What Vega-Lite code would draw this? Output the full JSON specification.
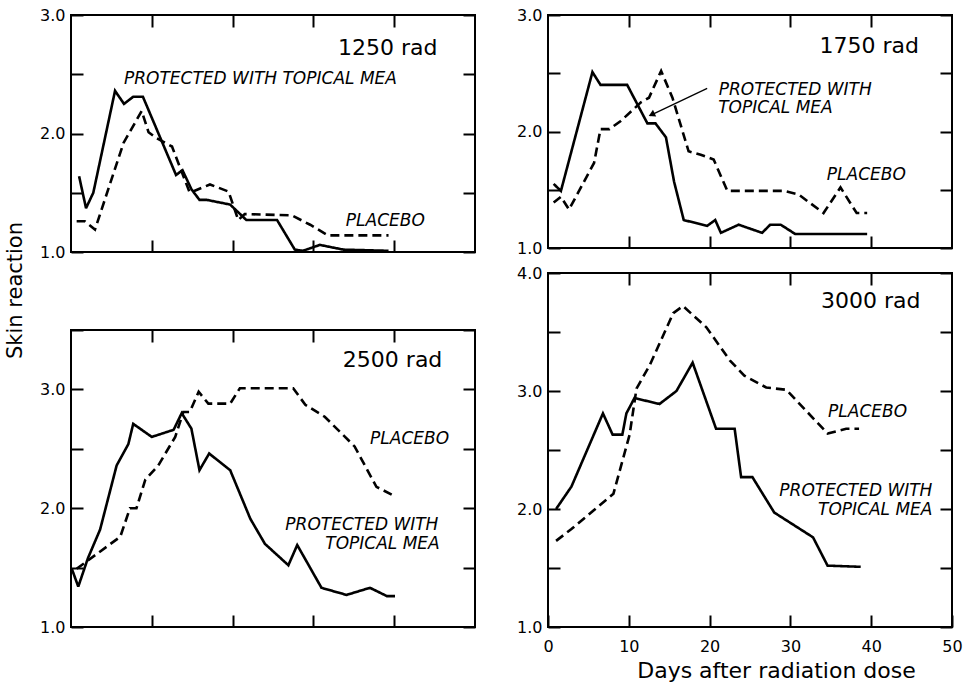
{
  "$schema": "https://vega.github.io/schema/vega-lite/v6.json",
  "padding": {"left": 3, "top": 6, "right": 5, "bottom": 5},
  "background": "white",
  "datasets": {
    "d1250": [
      {"series": "Protected", "day": 1.0, "value": 1.64}, {"series": "Protected", "day": 1.86, "value": 1.37}, {"series": "Protected", "day": 2.76, "value": 1.5}, {"series": "Protected", "day": 5.45, "value": 2.36}, {"series": "Protected", "day": 6.56, "value": 2.25}, {"series": "Protected", "day": 7.7, "value": 2.31}, {"series": "Protected", "day": 8.9, "value": 2.31}, {"series": "Protected", "day": 13.0, "value": 1.65}, {"series": "Protected", "day": 13.8, "value": 1.69}, {"series": "Protected", "day": 14.9, "value": 1.53}, {"series": "Protected", "day": 15.9, "value": 1.44}, {"series": "Protected", "day": 16.8, "value": 1.44}, {"series": "Protected", "day": 19.7, "value": 1.4}, {"series": "Protected", "day": 21.7, "value": 1.27}, {"series": "Protected", "day": 25.5, "value": 1.27}, {"series": "Protected", "day": 27.7, "value": 1.02}, {"series": "Protected", "day": 28.7, "value": 1.01}, {"series": "Protected", "day": 30.8, "value": 1.06}, {"series": "Protected", "day": 33.7, "value": 1.02}, {"series": "Protected", "day": 39.3, "value": 1.01},
      {"series": "Placebo", "day": 0.7, "value": 1.26}, {"series": "Placebo", "day": 1.7, "value": 1.26}, {"series": "Placebo", "day": 2.97, "value": 1.19}, {"series": "Placebo", "day": 6.5, "value": 1.92}, {"series": "Placebo", "day": 8.75, "value": 2.19}, {"series": "Placebo", "day": 9.6, "value": 2.01}, {"series": "Placebo", "day": 10.6, "value": 1.96}, {"series": "Placebo", "day": 12.5, "value": 1.89}, {"series": "Placebo", "day": 14.7, "value": 1.5}, {"series": "Placebo", "day": 17.2, "value": 1.57}, {"series": "Placebo", "day": 19.5, "value": 1.51}, {"series": "Placebo", "day": 20.7, "value": 1.27}, {"series": "Placebo", "day": 21.5, "value": 1.32}, {"series": "Placebo", "day": 27.3, "value": 1.31}, {"series": "Placebo", "day": 29.6, "value": 1.23}, {"series": "Placebo", "day": 31.8, "value": 1.14}, {"series": "Placebo", "day": 39.3, "value": 1.14}
    ],
    "d1750": [
      {"series": "Protected", "day": 0.7, "value": 1.55}, {"series": "Protected", "day": 1.6, "value": 1.49}, {"series": "Protected", "day": 5.5, "value": 2.51}, {"series": "Protected", "day": 6.5, "value": 2.4}, {"series": "Protected", "day": 9.8, "value": 2.4}, {"series": "Protected", "day": 12.3, "value": 2.07}, {"series": "Protected", "day": 13.3, "value": 2.07}, {"series": "Protected", "day": 14.6, "value": 1.95}, {"series": "Protected", "day": 15.6, "value": 1.57}, {"series": "Protected", "day": 16.8, "value": 1.24}, {"series": "Protected", "day": 19.7, "value": 1.19}, {"series": "Protected", "day": 20.7, "value": 1.24}, {"series": "Protected", "day": 21.4, "value": 1.13}, {"series": "Protected", "day": 23.6, "value": 1.2}, {"series": "Protected", "day": 26.5, "value": 1.13}, {"series": "Protected", "day": 27.5, "value": 1.2}, {"series": "Protected", "day": 28.8, "value": 1.2}, {"series": "Protected", "day": 30.6, "value": 1.12}, {"series": "Protected", "day": 39.5, "value": 1.12},
      {"series": "Placebo", "day": 0.7, "value": 1.39}, {"series": "Placebo", "day": 1.6, "value": 1.44}, {"series": "Placebo", "day": 2.6, "value": 1.33}, {"series": "Placebo", "day": 5.7, "value": 1.73}, {"series": "Placebo", "day": 6.5, "value": 2.02}, {"series": "Placebo", "day": 7.6, "value": 2.02}, {"series": "Placebo", "day": 9.0, "value": 2.09}, {"series": "Placebo", "day": 11.5, "value": 2.25}, {"series": "Placebo", "day": 12.5, "value": 2.29}, {"series": "Placebo", "day": 14.0, "value": 2.52}, {"series": "Placebo", "day": 15.4, "value": 2.29}, {"series": "Placebo", "day": 17.4, "value": 1.83}, {"series": "Placebo", "day": 18.9, "value": 1.8}, {"series": "Placebo", "day": 20.5, "value": 1.76}, {"series": "Placebo", "day": 22.2, "value": 1.49}, {"series": "Placebo", "day": 29.2, "value": 1.49}, {"series": "Placebo", "day": 31.0, "value": 1.46}, {"series": "Placebo", "day": 34.1, "value": 1.3}, {"series": "Placebo", "day": 36.2, "value": 1.52}, {"series": "Placebo", "day": 38.2, "value": 1.3}, {"series": "Placebo", "day": 39.5, "value": 1.3}
    ],
    "d2500": [
      {"series": "Protected", "day": 0.1, "value": 1.49}, {"series": "Protected", "day": 0.9, "value": 1.34}, {"series": "Protected", "day": 2.1, "value": 1.58}, {"series": "Protected", "day": 3.6, "value": 1.82}, {"series": "Protected", "day": 5.65, "value": 2.36}, {"series": "Protected", "day": 7.1, "value": 2.54}, {"series": "Protected", "day": 7.7, "value": 2.71}, {"series": "Protected", "day": 10.0, "value": 2.6}, {"series": "Protected", "day": 12.7, "value": 2.66}, {"series": "Protected", "day": 13.7, "value": 2.8}, {"series": "Protected", "day": 14.9, "value": 2.67}, {"series": "Protected", "day": 15.9, "value": 2.32}, {"series": "Protected", "day": 17.1, "value": 2.46}, {"series": "Protected", "day": 19.7, "value": 2.32}, {"series": "Protected", "day": 22.2, "value": 1.91}, {"series": "Protected", "day": 24.0, "value": 1.7}, {"series": "Protected", "day": 26.9, "value": 1.52}, {"series": "Protected", "day": 28.0, "value": 1.69}, {"series": "Protected", "day": 31.0, "value": 1.33}, {"series": "Protected", "day": 34.1, "value": 1.27}, {"series": "Protected", "day": 37.0, "value": 1.33}, {"series": "Protected", "day": 39.1, "value": 1.26}, {"series": "Protected", "day": 40.1, "value": 1.26},
      {"series": "Placebo", "day": 0.7, "value": 1.49}, {"series": "Placebo", "day": 6.1, "value": 1.76}, {"series": "Placebo", "day": 7.3, "value": 2.0}, {"series": "Placebo", "day": 8.1, "value": 2.0}, {"series": "Placebo", "day": 9.2, "value": 2.24}, {"series": "Placebo", "day": 10.8, "value": 2.36}, {"series": "Placebo", "day": 12.9, "value": 2.6}, {"series": "Placebo", "day": 13.9, "value": 2.81}, {"series": "Placebo", "day": 14.7, "value": 2.81}, {"series": "Placebo", "day": 15.8, "value": 2.98}, {"series": "Placebo", "day": 17.0, "value": 2.88}, {"series": "Placebo", "day": 19.7, "value": 2.88}, {"series": "Placebo", "day": 20.9, "value": 3.01}, {"series": "Placebo", "day": 27.5, "value": 3.01}, {"series": "Placebo", "day": 29.0, "value": 2.87}, {"series": "Placebo", "day": 31.4, "value": 2.77}, {"series": "Placebo", "day": 35.1, "value": 2.52}, {"series": "Placebo", "day": 37.8, "value": 2.18}, {"series": "Placebo", "day": 40.1, "value": 2.1}
    ],
    "d3000": [
      {"series": "Protected", "day": 1.0, "value": 2.0}, {"series": "Protected", "day": 2.9, "value": 2.19}, {"series": "Protected", "day": 6.8, "value": 2.81}, {"series": "Protected", "day": 8.0, "value": 2.63}, {"series": "Protected", "day": 9.2, "value": 2.63}, {"series": "Protected", "day": 9.7, "value": 2.81}, {"series": "Protected", "day": 10.7, "value": 2.94}, {"series": "Protected", "day": 13.8, "value": 2.89}, {"series": "Protected", "day": 15.9, "value": 3.0}, {"series": "Protected", "day": 17.9, "value": 3.24}, {"series": "Protected", "day": 20.8, "value": 2.68}, {"series": "Protected", "day": 23.1, "value": 2.68}, {"series": "Protected", "day": 23.9, "value": 2.27}, {"series": "Protected", "day": 25.3, "value": 2.27}, {"series": "Protected", "day": 28.0, "value": 1.97}, {"series": "Protected", "day": 32.8, "value": 1.76}, {"series": "Protected", "day": 34.6, "value": 1.52}, {"series": "Protected", "day": 38.7, "value": 1.51},
      {"series": "Placebo", "day": 1.0, "value": 1.73}, {"series": "Placebo", "day": 2.9, "value": 1.83}, {"series": "Placebo", "day": 8.1, "value": 2.13}, {"series": "Placebo", "day": 9.3, "value": 2.43}, {"series": "Placebo", "day": 10.1, "value": 2.63}, {"series": "Placebo", "day": 10.95, "value": 3.02}, {"series": "Placebo", "day": 12.6, "value": 3.22}, {"series": "Placebo", "day": 15.5, "value": 3.66}, {"series": "Placebo", "day": 16.7, "value": 3.72}, {"series": "Placebo", "day": 19.6, "value": 3.54}, {"series": "Placebo", "day": 22.5, "value": 3.26}, {"series": "Placebo", "day": 24.3, "value": 3.13}, {"series": "Placebo", "day": 27.0, "value": 3.03}, {"series": "Placebo", "day": 29.5, "value": 3.01}, {"series": "Placebo", "day": 34.6, "value": 2.64}, {"series": "Placebo", "day": 36.9, "value": 2.68}, {"series": "Placebo", "day": 38.5, "value": 2.68}
    ],
    "t1250": [
      {"kind": "dose", "label": "1250 rad", "day": 39.2, "value": 2.72},
      {"kind": "series", "label": "PROTECTED WITH TOPICAL MEA", "day": 23.45, "value": 2.46},
      {"kind": "series", "label": "PLACEBO", "day": 38.9, "value": 1.26}
    ],
    "t1750": [
      {"kind": "dose", "label": "1750 rad", "day": 39.75, "value": 2.73},
      {"kind": "series", "label": "PROTECTED WITH", "day": 30.6, "value": 2.36},
      {"kind": "series", "label": "TOPICAL MEA", "day": 28.15, "value": 2.2},
      {"kind": "series", "label": "PLACEBO", "day": 39.4, "value": 1.63}
    ],
    "t2500": [
      {"kind": "dose", "label": "2500 rad", "day": 39.8, "value": 3.25},
      {"kind": "series", "label": "PLACEBO", "day": 41.9, "value": 2.58},
      {"kind": "series", "label": "PROTECTED WITH", "day": 36.0, "value": 1.86},
      {"kind": "series", "label": "TOPICAL MEA", "day": 38.55, "value": 1.7}
    ],
    "t3000": [
      {"kind": "dose", "label": "3000 rad", "day": 39.95, "value": 3.76},
      {"kind": "series", "label": "PLACEBO", "day": 39.55, "value": 2.82},
      {"kind": "series", "label": "PROTECTED WITH", "day": 38.1, "value": 2.15},
      {"kind": "series", "label": "TOPICAL MEA", "day": 40.5, "value": 1.99}
    ],
    "arrow1750": [
      {"day": 19.7, "value": 2.37, "day2": 12.6, "value2": 2.137}
    ],
    "head1750": [
      {"day": 12.95, "value": 2.15}
    ]
  },
  "hconcat": [
    {
      "vconcat": [
        {
          "width": 404, "height": 237,
          "layer": [
            {
              "data": {"name": "d1250"},
              "mark": {"type": "line", "color": "black", "strokeWidth": 2.6},
              "encoding": {
                "x": {"field": "day", "type": "quantitative", "scale": {"domain": [0, 50], "nice": false, "zero": false}, "axis": {"values": [10, 20, 30, 40], "labels": false, "title": null}},
                "y": {"field": "value", "type": "quantitative", "scale": {"domain": [1, 3], "nice": false, "zero": false}, "axis": {"values": [1, 1.5, 2, 2.5, 3], "labelExpr": "datum.value % 1 === 0 ? format(datum.value, '.1f') : ''", "title": null}},
                "strokeDash": {"field": "series", "type": "nominal", "scale": {"domain": ["Protected", "Placebo"], "range": [[1, 0], [9, 5]]}, "legend": null}
              }
            },
            {
              "data": {"name": "t1250"},
              "transform": [{"filter": "datum.kind === 'dose'"}],
              "mark": {"type": "text", "fontSize": 22, "align": "center", "baseline": "middle"},
              "encoding": {
                "x": {"field": "day", "type": "quantitative", "axis": {"orient": "top", "values": [10, 20, 30, 40], "labels": false, "title": null}},
                "y": {"field": "value", "type": "quantitative", "axis": {"orient": "right", "values": [1, 1.5, 2, 2.5, 3], "labels": false, "title": null}},
                "text": {"field": "label"}
              }
            },
            {
              "data": {"name": "t1250"},
              "transform": [{"filter": "datum.kind === 'series'"}],
              "mark": {"type": "text", "fontSize": 17, "fontStyle": "italic", "align": "center", "baseline": "middle"},
              "encoding": {
                "x": {"field": "day", "type": "quantitative", "axis": null},
                "y": {"field": "value", "type": "quantitative", "axis": null},
                "text": {"field": "label"}
              }
            }
          ],
          "resolve": {"axis": {"x": "independent", "y": "independent"}}
        },
        {
          "width": 404, "height": 297,
          "layer": [
            {
              "data": {"name": "d2500"},
              "mark": {"type": "line", "color": "black", "strokeWidth": 2.6},
              "encoding": {
                "x": {"field": "day", "type": "quantitative", "scale": {"domain": [0, 50], "nice": false, "zero": false}, "axis": {"values": [10, 20, 30, 40], "labels": false, "title": null}},
                "y": {"field": "value", "type": "quantitative", "scale": {"domain": [1, 3.5], "nice": false, "zero": false}, "axis": {"values": [1, 1.5, 2, 2.5, 3, 3.5], "labelExpr": "datum.value % 1 === 0 ? format(datum.value, '.1f') : ''", "title": "Skin reaction", "titleAngle": 270, "titleX": -50, "titleY": -40, "titleAlign": "center", "titleBaseline": "alphabetic"}},
                "strokeDash": {"field": "series", "type": "nominal", "scale": {"domain": ["Protected", "Placebo"], "range": [[1, 0], [9, 5]]}, "legend": null}
              }
            },
            {
              "data": {"name": "t2500"},
              "transform": [{"filter": "datum.kind === 'dose'"}],
              "mark": {"type": "text", "fontSize": 22, "align": "center", "baseline": "middle"},
              "encoding": {
                "x": {"field": "day", "type": "quantitative", "axis": {"orient": "top", "values": [10, 20, 30, 40], "labels": false, "title": null}},
                "y": {"field": "value", "type": "quantitative", "axis": {"orient": "right", "values": [1, 1.5, 2, 2.5, 3, 3.5], "labels": false, "title": null}},
                "text": {"field": "label"}
              }
            },
            {
              "data": {"name": "t2500"},
              "transform": [{"filter": "datum.kind === 'series'"}],
              "mark": {"type": "text", "fontSize": 17, "fontStyle": "italic", "align": "center", "baseline": "middle"},
              "encoding": {
                "x": {"field": "day", "type": "quantitative", "axis": null},
                "y": {"field": "value", "type": "quantitative", "axis": null},
                "text": {"field": "label"}
              }
            }
          ],
          "resolve": {"axis": {"x": "independent", "y": "independent"}}
        }
      ],
      "spacing": 78,
      "bounds": "flush"
    },
    {
      "vconcat": [
        {
          "width": 404, "height": 233,
          "layer": [
            {
              "data": {"name": "d1750"},
              "mark": {"type": "line", "color": "black", "strokeWidth": 2.6},
              "encoding": {
                "x": {"field": "day", "type": "quantitative", "scale": {"domain": [0, 50], "nice": false, "zero": false}, "axis": {"values": [10, 20, 30, 40], "labels": false, "title": null}},
                "y": {"field": "value", "type": "quantitative", "scale": {"domain": [1, 3], "nice": false, "zero": false}, "axis": {"values": [1, 1.5, 2, 2.5, 3], "labelExpr": "datum.value % 1 === 0 ? format(datum.value, '.1f') : ''", "title": null}},
                "strokeDash": {"field": "series", "type": "nominal", "scale": {"domain": ["Protected", "Placebo"], "range": [[1, 0], [9, 5]]}, "legend": null}
              }
            },
            {
              "data": {"name": "t1750"},
              "transform": [{"filter": "datum.kind === 'dose'"}],
              "mark": {"type": "text", "fontSize": 22, "align": "center", "baseline": "middle"},
              "encoding": {
                "x": {"field": "day", "type": "quantitative", "axis": {"orient": "top", "values": [10, 20, 30, 40], "labels": false, "title": null}},
                "y": {"field": "value", "type": "quantitative", "axis": {"orient": "right", "values": [1, 1.5, 2, 2.5, 3], "labels": false, "title": null}},
                "text": {"field": "label"}
              }
            },
            {
              "data": {"name": "t1750"},
              "transform": [{"filter": "datum.kind === 'series'"}],
              "mark": {"type": "text", "fontSize": 17, "fontStyle": "italic", "align": "center", "baseline": "middle"},
              "encoding": {
                "x": {"field": "day", "type": "quantitative", "axis": null},
                "y": {"field": "value", "type": "quantitative", "axis": null},
                "text": {"field": "label"}
              }
            },
            {
              "data": {"name": "arrow1750"},
              "mark": {"type": "rule", "color": "black", "strokeWidth": 1.3},
              "encoding": {
                "x": {"field": "day", "type": "quantitative", "axis": null},
                "y": {"field": "value", "type": "quantitative", "axis": null},
                "x2": {"field": "day2"},
                "y2": {"field": "value2"}
              }
            },
            {
              "data": {"name": "head1750"},
              "mark": {"type": "point", "shape": "triangle", "filled": true, "color": "black", "opacity": 1, "size": 55, "angle": 244},
              "encoding": {
                "x": {"field": "day", "type": "quantitative", "axis": null},
                "y": {"field": "value", "type": "quantitative", "axis": null}
              }
            }
          ],
          "resolve": {"axis": {"x": "independent", "y": "independent"}}
        },
        {
          "width": 404, "height": 354,
          "layer": [
            {
              "data": {"name": "d3000"},
              "mark": {"type": "line", "color": "black", "strokeWidth": 2.6},
              "encoding": {
                "x": {"field": "day", "type": "quantitative", "scale": {"domain": [0, 50], "nice": false, "zero": false}, "axis": {"values": [0, 10, 20, 30, 40, 50], "format": "d", "labelFlush": false, "labelPadding": 23, "title": "Days after radiation dose", "titleFontSize": 22, "titleX": 228, "titleY": 50, "titleAlign": "center", "titleBaseline": "alphabetic"}},
                "y": {"field": "value", "type": "quantitative", "scale": {"domain": [1, 4], "nice": false, "zero": false}, "axis": {"values": [1, 1.5, 2, 2.5, 3, 3.5, 4], "labelExpr": "datum.value % 1 === 0 ? format(datum.value, '.1f') : ''", "title": null}},
                "strokeDash": {"field": "series", "type": "nominal", "scale": {"domain": ["Protected", "Placebo"], "range": [[1, 0], [9, 5]]}, "legend": null}
              }
            },
            {
              "data": {"name": "t3000"},
              "transform": [{"filter": "datum.kind === 'dose'"}],
              "mark": {"type": "text", "fontSize": 22, "align": "center", "baseline": "middle"},
              "encoding": {
                "x": {"field": "day", "type": "quantitative", "axis": {"orient": "top", "values": [10, 20, 30, 40], "labels": false, "title": null}},
                "y": {"field": "value", "type": "quantitative", "axis": {"orient": "right", "values": [1, 1.5, 2, 2.5, 3, 3.5, 4], "labels": false, "title": null}},
                "text": {"field": "label"}
              }
            },
            {
              "data": {"name": "t3000"},
              "transform": [{"filter": "datum.kind === 'series'"}],
              "mark": {"type": "text", "fontSize": 17, "fontStyle": "italic", "align": "center", "baseline": "middle"},
              "encoding": {
                "x": {"field": "day", "type": "quantitative", "axis": null},
                "y": {"field": "value", "type": "quantitative", "axis": null},
                "text": {"field": "label"}
              }
            }
          ],
          "resolve": {"axis": {"x": "independent", "y": "independent"}}
        }
      ],
      "spacing": 25,
      "bounds": "flush"
    }
  ],
  "spacing": 38,
  "config": {
    "view": {"stroke": "black", "strokeWidth": 2},
    "axis": {"domain": false, "grid": false, "tickSize": -12, "tickWidth": 2, "tickColor": "black", "labelFont": "DejaVu Sans", "labelFontSize": 16, "labelColor": "black", "labelPadding": 18, "labelFlush": false, "labelOverlap": false, "titleFont": "DejaVu Sans", "titleFontSize": 21, "titleFontWeight": "normal", "titleColor": "black"},
    "text": {"font": "DejaVu Sans", "color": "black"},
    "line": {"strokeJoin": "miter", "strokeMiterLimit": 3}
  }
}
